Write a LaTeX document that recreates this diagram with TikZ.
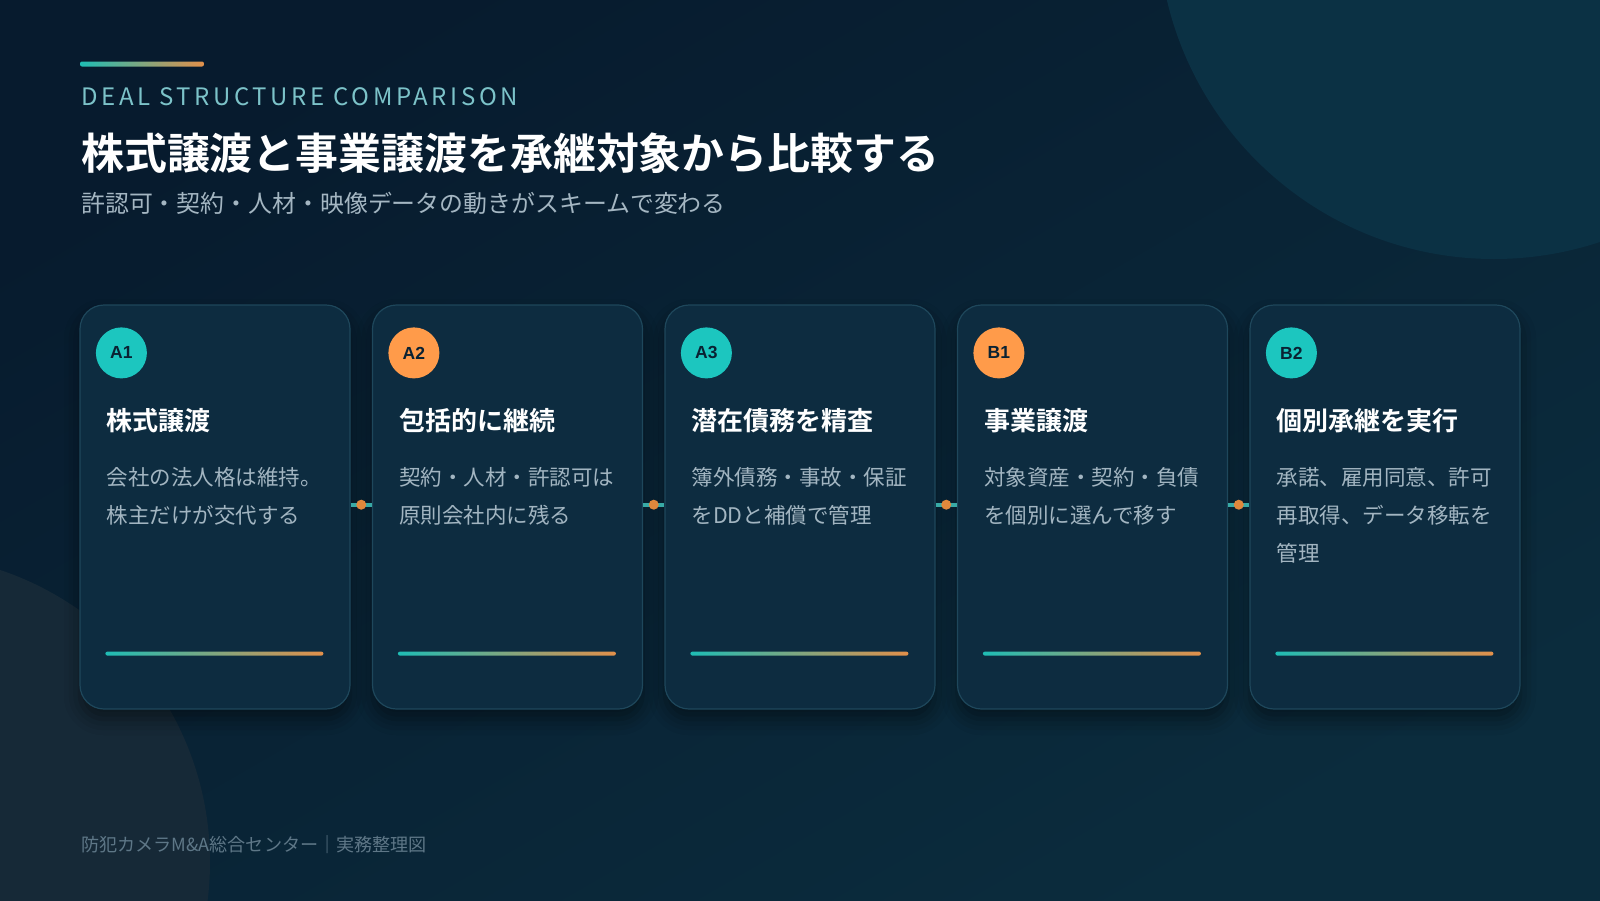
\documentclass[tikz,border=0pt]{standalone}
\usepackage{fontspec}
\setmainfont{Noto Sans CJK JP}[BoldFont={Noto Sans CJK JP Bold}]
\newfontfamily\badgefont{Liberation Sans}
\usetikzlibrary{positioning,shadows.blur}
\definecolor{bgA}{HTML}{071B2E}
\definecolor{bgB}{HTML}{0B2C3D}
\definecolor{blobTR}{HTML}{0B3144}
\definecolor{blobBL}{HTML}{162937}
\definecolor{cardFill}{HTML}{0D2C40}
\definecolor{cardEdge}{HTML}{1E475B}
\definecolor{tealC}{HTML}{1CC6BF}
\definecolor{orangeC}{HTML}{FF9B4A}
\definecolor{barL}{HTML}{1FBDB5}
\definecolor{barR}{HTML}{E2904A}
\definecolor{kicker}{HTML}{7CC3C9}
\definecolor{subText}{HTML}{A4B6C2}
\definecolor{bodyText}{HTML}{A2B5C1}
\definecolor{footText}{HTML}{5E7787}
\definecolor{badgeText}{HTML}{0A2233}
\definecolor{dotC}{HTML}{E0883C}
\definecolor{linkC}{HTML}{38AAA6}

\begin{document}
\begin{tikzpicture}[x=1pt,y=-1pt,
    card/.style={draw=cardEdge,line width=1.2pt,fill=cardFill,rounded corners=24pt,
      minimum width=270pt,minimum height=404pt,inner sep=0pt,
      blur shadow={shadow xshift=0pt,shadow yshift=-10pt,shadow blur radius=16pt,shadow opacity=45}},
    badge/.style={circle,minimum size=51pt,inner sep=0pt,text=badgeText,
      font=\badgefont\bfseries\fontsize{17.5}{20}\selectfont},
    cardtitle/.style={anchor=base west,inner sep=0pt,text=white,
      font=\bfseries\fontsize{26}{30}\selectfont},
    cardbody/.style={anchor=base west,inner sep=0pt,align=left,text=bodyText,
      font=\fontsize{21.5}{37.7}\selectfont},
    cardbar/.style={left color=barL,right color=barR,rounded corners=2pt},
    link/.style={draw=linkC,line width=4pt},
    dot/.style={circle,fill=dotC,minimum size=10pt,inner sep=0pt}]

    % background
    \useasboundingbox (0,0) rectangle (1600,900);
    \clip (0,0) rectangle (1600,900);
    \shade[top color=bgA,bottom color=bgB,shading angle=30] (0,0) rectangle (1600,900);
    \fill[blobTR] (1494,-77) circle (336);
    \fill[blobBL] (-98,862) circle (308);

    % header
    \shade[cardbar] (80,61.5) rectangle (204,66.5);
    \node[anchor=base west,inner sep=0pt,text=kicker,
      font=\fontsize{24}{28}\selectfont\addfontfeature{LetterSpace=15}] (kick) at (81,105) {DEAL STRUCTURE COMPARISON};
    \node[anchor=base west,inner sep=0pt,text=white,
      font=\bfseries\fontsize{42.9}{50}\selectfont] (head) at (81,169) {株式譲渡と事業譲渡を承継対象から比較する};
    \node[anchor=base west,inner sep=0pt,text=subText,
      font=\fontsize{23.9}{28}\selectfont] (sub) at (81,212.5) {許認可・契約・人材・映像データの動きがスキームで変わる};

    % cards
    \node[card] (c1) at (215,507) {};
    \node[card] (c2) at (507.5,507) {};
    \node[card] (c3) at (800,507) {};
    \node[card] (c4) at (1092.5,507) {};
    \node[card] (c5) at (1385,507) {};

    \draw[link] ([yshift=2.3pt]c1.east) -- node[dot] (d1) {} ([yshift=2.3pt]c2.west);
    \draw[link] ([yshift=2.3pt]c2.east) -- node[dot] (d2) {} ([yshift=2.3pt]c3.west);
    \draw[link] ([yshift=2.3pt]c3.east) -- node[dot] (d3) {} ([yshift=2.3pt]c4.west);
    \draw[link] ([yshift=2.3pt]c4.east) -- node[dot] (d4) {} ([yshift=2.3pt]c5.west);

    \node[badge,fill=tealC] (b1) at ([xshift=42pt,yshift=-48.5pt]c1.north west) {A1};
    \node[badge,fill=orangeC] (b2) at ([xshift=42pt,yshift=-48.5pt]c2.north west) {A2};
    \node[badge,fill=tealC] (b3) at ([xshift=42pt,yshift=-48.5pt]c3.north west) {A3};
    \node[badge,fill=orangeC] (b4) at ([xshift=42pt,yshift=-48.5pt]c4.north west) {B1};
    \node[badge,fill=tealC] (b5) at ([xshift=42pt,yshift=-48.5pt]c5.north west) {B2};

    \node[cardtitle] (t1) at ([xshift=27pt,yshift=-126pt]c1.north west) {株式譲渡};
    \node[cardtitle] (t2) at ([xshift=27pt,yshift=-126pt]c2.north west) {包括的に継続};
    \node[cardtitle] (t3) at ([xshift=27pt,yshift=-126pt]c3.north west) {潜在債務を精査};
    \node[cardtitle] (t4) at ([xshift=27pt,yshift=-126pt]c4.north west) {事業譲渡};
    \node[cardtitle] (t5) at ([xshift=27pt,yshift=-126pt]c5.north west) {個別承継を実行};

    % body text: base = last line
    \node[cardbody] (p1) at ([xshift=27pt,yshift=-219.2pt]c1.north west) {会社の法人格は維持。\\株主だけが交代する};
    \node[cardbody] (p2) at ([xshift=27pt,yshift=-219.2pt]c2.north west) {契約・人材・許認可は\\原則会社内に残る};
    \node[cardbody] (p3) at ([xshift=27pt,yshift=-219.2pt]c3.north west) {簿外債務・事故・保証\\をDDと補償で管理};
    \node[cardbody] (p4) at ([xshift=27pt,yshift=-219.2pt]c4.north west) {対象資産・契約・負債\\を個別に選んで移す};
    \node[cardbody] (p5) at ([xshift=27pt,yshift=-256.9pt]c5.north west) {承諾、雇用同意、許可\\再取得、データ移転を\\管理};

    \shade[cardbar] ([xshift=26pt,yshift=54pt]c1.south west) rectangle ++(218,-4);
    \shade[cardbar] ([xshift=26pt,yshift=54pt]c2.south west) rectangle ++(218,-4);
    \shade[cardbar] ([xshift=26pt,yshift=54pt]c3.south west) rectangle ++(218,-4);
    \shade[cardbar] ([xshift=26pt,yshift=54pt]c4.south west) rectangle ++(218,-4);
    \shade[cardbar] ([xshift=26pt,yshift=54pt]c5.south west) rectangle ++(218,-4);

    % footer
    \node[anchor=base west,inner sep=0pt,text=footText,
      font=\fontsize{18.1}{20}\selectfont] (foot) at (81,851) {防犯カメラM\&A総合センター｜実務整理図};
  \end{tikzpicture}
\end{document}
